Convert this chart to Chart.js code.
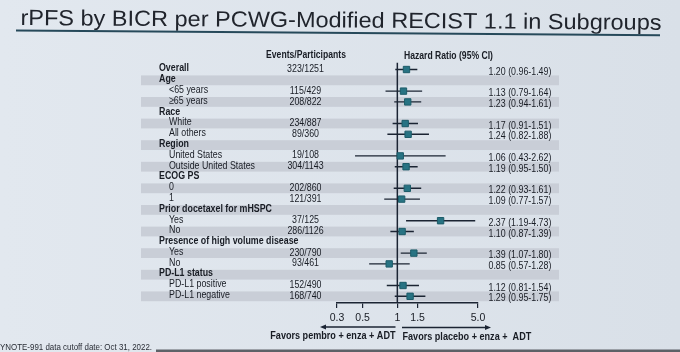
<!DOCTYPE html>
<html>
<head>
<meta charset="utf-8">
<script src="https://cdn.jsdelivr.net/npm/chart.js@4.4.0/dist/chart.umd.min.js"></script>
<style>
  html, body { margin: 0; padding: 0; background: #dfe5ec; }
  #wrap { width: 680px; height: 352px; }
</style>
</head>
<body>
<div id="wrap"><canvas id="forest" width="680" height="352"></canvas></div>
<script>
// rows, top to bottom
var rowLabels = ['Overall', 'Age', '<65 years', '\u226565 years', 'Race', 'White', 'All others',
  'Region', 'United States', 'Outside United States', 'ECOG PS', '0', '1',
  'Prior docetaxel for mHSPC', 'Yes', 'No', 'Presence of high volume disease', 'Yes', 'No',
  'PD-L1 status', 'PD-L1 positive', 'PD-L1 negative'];
var rowIsHeader = [true, true, false, false, true, false, false, true, false, false, true, false, false,
  true, false, false, true, false, false, true, false, false];
var events = ['323/1251', '', '115/429', '208/822', '', '234/887', '89/360', '', '19/108', '304/1143',
  '', '202/860', '121/391', '', '37/125', '286/1126', '', '230/790', '93/461', '', '152/490', '168/740'];
var hr = [1.20, null, 1.13, 1.23, null, 1.17, 1.24, null, 1.06, 1.19, null, 1.22, 1.09,
  null, 2.37, 1.10, null, 1.39, 0.85, null, 1.12, 1.29];
var ciLow = [0.96, null, 0.79, 0.94, null, 0.91, 0.82, null, 0.43, 0.95, null, 0.93, 0.77,
  null, 1.19, 0.87, null, 1.07, 0.57, null, 0.81, 0.95];
var ciHigh = [1.49, null, 1.64, 1.61, null, 1.51, 1.88, null, 2.62, 1.50, null, 1.61, 1.57,
  null, 4.73, 1.39, null, 1.80, 1.28, null, 1.54, 1.75];
var tickValues = [0.3, 0.5, 1, 1.5, 5];
var tickLabels = ['0.3', '0.5', '1', '1.5', '5.0'];

var NAVY = '#1b2433';
var TEAL = '#287383';
var INK = '#181c24';
var Y_MIN = -0.65, Y_MAX = 21.62;
var FONT = '"Liberation Sans", Arial, sans-serif';

function txt(ctx, s, x, y, size, bold, align, squeeze) {
  ctx.save();
  ctx.font = (bold ? 'bold ' : '') + size + 'px ' + FONT;
  ctx.textBaseline = 'middle';
  ctx.textAlign = align || 'left';
  ctx.fillStyle = INK;
  ctx.translate(x, y);
  ctx.scale(squeeze || 0.79, 1);
  ctx.fillText(s, 0, 0);
  ctx.restore();
}

function arrow(ctx, x1, x2, y) {
  var dir = x2 > x1 ? 1 : -1;
  ctx.save();
  ctx.strokeStyle = NAVY;
  ctx.fillStyle = NAVY;
  ctx.lineWidth = 1.3;
  ctx.beginPath();
  ctx.moveTo(x1, y);
  ctx.lineTo(x2 - dir * 5, y);
  ctx.stroke();
  ctx.beginPath();
  ctx.moveTo(x2, y);
  ctx.lineTo(x2 - dir * 6, y - 2.6);
  ctx.lineTo(x2 - dir * 6, y + 2.6);
  ctx.closePath();
  ctx.fill();
  ctx.restore();
}

var forestDecor = {
  id: 'forestDecor',
  beforeDraw: function(chart) {
    var ctx = chart.ctx, ys = chart.scales.y;
    ctx.save();
    var g = ctx.createLinearGradient(0, 0, 680, 0);
    g.addColorStop(0, '#e2e8ef');
    g.addColorStop(1, '#d9e0e8');
    ctx.fillStyle = g;
    ctx.fillRect(0, 0, 680, 352);
    // alternating row bands
    ctx.fillStyle = '#c9ced7';
    rowLabels.forEach(function(l, i) {
      if (i % 2 === 1) {
        var y = ys.getPixelForValue(i);
        ctx.fillRect(141, y - 4.9, 559 - 141, 9.8);
      }
    });
    // dark edge of the screen at the bottom
    ctx.fillStyle = 'rgba(70,74,80,0.85)';
    ctx.fillRect(156, 349.5, 524, 3);
    ctx.restore();
  },
  afterDraw: function(chart) {
    var ctx = chart.ctx, ys = chart.scales.y;

    // title, slightly tilted like the photo
    ctx.save();
    ctx.translate(20.5, 25);
    ctx.rotate(0.0075);
    ctx.font = '22px ' + FONT;
    ctx.fillStyle = '#20242c';
    ctx.textBaseline = 'alphabetic';
    var title = 'rPFS by BICR per PCWG-Modified RECIST 1.1 in Subgroups';
    var w = ctx.measureText(title).width;
    ctx.scale(641 / w, 1);
    ctx.fillText(title, 0, 0);
    ctx.restore();
    ctx.save();
    ctx.strokeStyle = '#26495a';
    ctx.lineWidth = 2;
    ctx.beginPath();
    ctx.moveTo(16, 30.5);
    ctx.lineTo(660, 35.3);
    ctx.stroke();
    ctx.restore();

    txt(ctx, 'Events/Participants', 306, 54.7, 10.9, true, 'center');
    txt(ctx, 'Hazard Ratio (95% CI)', 404, 56, 10.9, true, 'left');

    rowLabels.forEach(function(l, i) {
      var y = ys.getPixelForValue(i);
      if (rowIsHeader[i]) txt(ctx, l, 159, y - 1.3, 11.2, true, 'left');
      else txt(ctx, l, 169, y - 1.2, 11.2, false, 'left');
      if (events[i]) txt(ctx, events[i], 305.5, y - 0.5, 11.2, false, 'center');
      if (hr[i] !== null) {
        var s = hr[i].toFixed(2) + ' (' + ciLow[i].toFixed(2) + '-' + ciHigh[i].toFixed(2) + ')';
        txt(ctx, s, 488.5, y + 2, 11.2, false, 'left');
      }
    });

    arrow(ctx, 395.5, 320, 327);
    arrow(ctx, 402, 491, 327.5);
    txt(ctx, 'Favors pembro + enza + ADT', 395.5, 336, 11.5, true, 'right');
    txt(ctx, 'Favors placebo + enza +  ADT', 402.5, 336.5, 11.5, true, 'left');

    ctx.save();
    ctx.font = '9px ' + FONT;
    var foot = 'YNOTE-991 data cutoff date: Oct 31, 2022.';
    var fw = ctx.measureText(foot).width;
    ctx.translate(0, 347.3);
    ctx.scale(152 / fw, 1);
    ctx.fillStyle = '#2a2e36';
    ctx.textBaseline = 'middle';
    ctx.fillText(foot, 0, 0);
    ctx.restore();
  }
};

var datasets = [];
// markers on top
datasets.push({
  label: 'HR',
  data: hr.map(function(v, i) { return v === null ? null : { x: v, y: i }; }).filter(function(p) { return p; }),
  pointStyle: 'rect',
  pointRadius: 4.5,
  backgroundColor: TEAL,
  borderColor: '#1d5c69',
  borderWidth: 1,
  order: 0
});
// confidence intervals
hr.forEach(function(v, i) {
  if (v === null) return;
  datasets.push({
    label: 'CI ' + i,
    data: [{ x: ciLow[i], y: i }, { x: ciHigh[i], y: i }],
    showLine: true,
    borderColor: NAVY,
    borderWidth: 1.4,
    pointRadius: 0,
    order: 1
  });
});
// line of no effect
datasets.push({
  label: 'ref',
  data: [{ x: 1, y: Y_MIN }, { x: 1, y: Y_MAX }],
  showLine: true,
  borderColor: NAVY,
  borderWidth: 1.5,
  pointRadius: 0,
  order: 2
});

new Chart(document.getElementById('forest').getContext('2d'), {
  type: 'scatter',
  data: { datasets: datasets },
  options: {
    responsive: false,
    devicePixelRatio: 1,
    animation: false,
    layout: { padding: { left: 337, right: 202, top: 62.5, bottom: 27 } },
    plugins: { legend: { display: false }, tooltip: { enabled: false } },
    scales: {
      x: {
        type: 'logarithmic',
        min: 0.3,
        max: 5,
        afterBuildTicks: function(s) { s.ticks = tickValues.map(function(v) { return { value: v }; }); },
        afterFit: function(s) { s.height = 22; },
        ticks: {
          callback: function(v, idx) { return tickLabels[idx]; },
          font: { family: 'Liberation Sans', size: 10.5 },
          color: INK,
          padding: 4,
          maxRotation: 0,
          autoSkip: false
        },
        grid: { drawOnChartArea: false, tickLength: 5, color: NAVY, lineWidth: 1.2 },
        border: { display: true, color: NAVY, width: 1.4 }
      },
      y: { type: 'linear', reverse: true, min: Y_MIN, max: Y_MAX, display: false }
    }
  },
  plugins: [forestDecor]
});
</script>
</body>
</html>
